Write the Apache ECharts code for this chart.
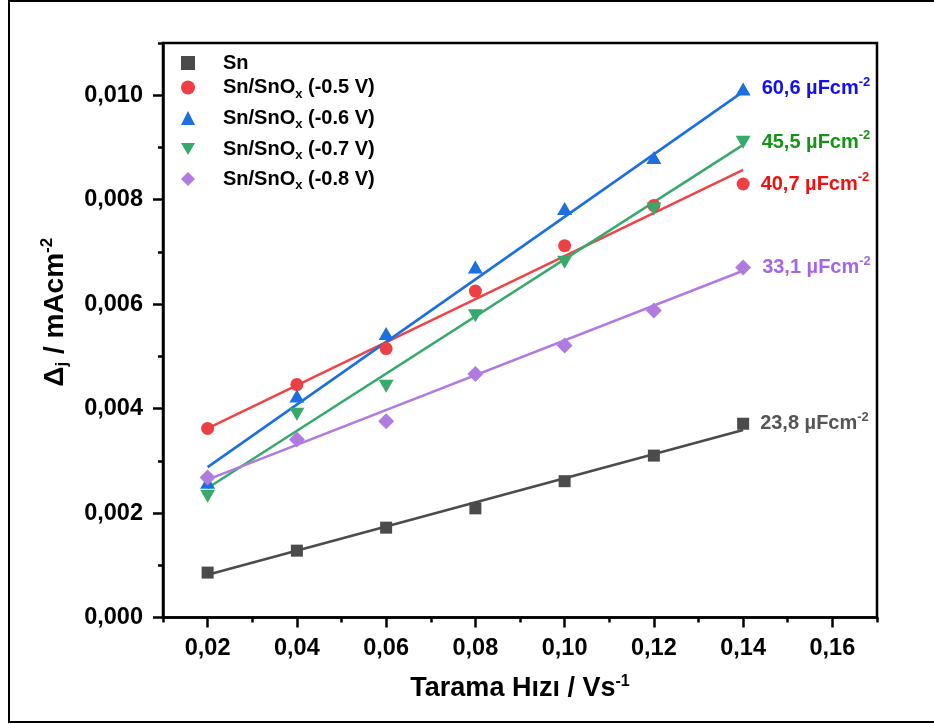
<!DOCTYPE html>
<html>
<head>
<meta charset="utf-8">
<script src="https://cdn.jsdelivr.net/npm/echarts@6/dist/echarts.min.js"></script>
<style>
html,body{margin:0;padding:0;background:#fff;}
#chart{width:934px;height:724px;}
</style>
</head>
<body>
<div id="chart"></div>
<script>
// ---- data ----
const xVals = [0.02, 0.04, 0.06, 0.08, 0.10, 0.12, 0.14];
const snVals   = [0.00086, 0.00128, 0.00172, 0.00209, 0.00261, 0.00310, 0.00371];
const sn05Vals = [0.00362, 0.00446, 0.00515, 0.00625, 0.00712, 0.00789, 0.00830];
const sn06Vals = [0.00259, 0.00424, 0.00544, 0.00671, 0.00783, 0.00881, 0.01012];
const sn07Vals = [0.00232, 0.00389, 0.00443, 0.00578, 0.00680, 0.00782, 0.00910];
const sn08Vals = [0.00268, 0.00341, 0.00376, 0.00466, 0.00521, 0.00588, 0.00670];

// linear-fit line end points
const fitX      = [0.02, 0.14];
const snFit     = [0.00082, 0.00359];
const sn05Fit   = [0.00362, 0.00857];
const sn06Fit   = [0.00288, 0.01007];
const sn07Fit   = [0.00248, 0.00905];
const sn08Fit   = [0.00264, 0.00664];

const seriesNames = ['Sn', 'Sn/SnOx (-0.5 V)', 'Sn/SnOx (-0.6 V)', 'Sn/SnOx (-0.7 V)', 'Sn/SnOx (-0.8 V)'];
const capLabels = ['23,8', '40,7', '60,6', '45,5', '33,1'];

const xMajorTicks = [0.02, 0.04, 0.06, 0.08, 0.10, 0.12, 0.14, 0.16];
const xMinorTicks = [0.01, 0.03, 0.05, 0.07, 0.09, 0.11, 0.13, 0.15, 0.17];
const yMajorTicks = [0.000, 0.002, 0.004, 0.006, 0.008, 0.010];
const yMinorTicks = [0.001, 0.003, 0.005, 0.007, 0.009, 0.011];

// ---- styling ----
const FONT = '"Liberation Sans", Arial, sans-serif';
const markerColors = ['#4b4b4b', '#ee3f44', '#1b6fe0', '#37aa6b', '#b07be0'];
const lineColors   = ['#4b4b4b', '#ef4448', '#1b6fe0', '#37aa6b', '#b07be0'];
const labelColors  = ['#555555', '#f21010', '#1010f0', '#149414', '#a566e6'];
const symbols = ['rect', 'circle', 'triangle', 'path://M0,0 L2,0 L1,1.732 Z', 'diamond'];
const symbolSizes = [12, 13, [15, 13], [15, 13], 16];
const valueSets = [snVals, sn05Vals, sn06Vals, sn07Vals, sn08Vals];
const fitSets = [snFit, sn05Fit, sn06Fit, sn07Fit, sn08Fit];
const legendCenters = [61, 85.5, 116, 147, 177];

const chart = echarts.init(document.getElementById('chart'), null, {renderer: 'canvas'});

const series = [];
valueSets.forEach((vals, i) => {
  series.push({
    name: 'fit' + i,
    type: 'line',
    data: fitX.map((x, k) => [x, fitSets[i][k]]),
    showSymbol: false,
    symbol: 'none',
    lineStyle: {color: lineColors[i], width: 2.6},
    z: 2,
    silent: true,
    animation: false
  });
});
valueSets.forEach((vals, i) => {
  series.push({
    name: seriesNames[i],
    type: 'scatter',
    data: xVals.map((x, k) => [x, vals[k]]),
    symbol: symbols[i],
    symbolSize: symbolSizes[i],
    itemStyle: {color: markerColors[i], opacity: 1},
    z: 3,
    animation: false,
    label: {
      show: true,
      position: 'right',
      distance: 11,
      formatter: p => p.dataIndex === xVals.length - 1 ? '{v|' + capLabels[i] + ' µFcm}{s|-2}' : '',
      rich: {
        v: {fontFamily: FONT, fontWeight: 'bold', fontSize: 20, color: labelColors[i], lineHeight: 26},
        s: {fontFamily: FONT, fontWeight: 'bold', fontSize: 13, color: labelColors[i], verticalAlign: 'top', lineHeight: 14}
      }
    }
  });
});

function legendText(name) {
  if (name.indexOf('SnOx') >= 0) {
    const parts = name.split('SnOx');
    return '{b0|' + parts[0] + 'SnO}{sub|x}{b|' + parts[1] + '}';
  }
  return '{b0|' + name + '}';
}

const legends = seriesNames.map((nm, i) => ({
  data: [nm],
  left: 176,
  top: legendCenters[i] - 13,
  orient: 'vertical',
  itemWidth: 14,
  itemHeight: 14,
  selectedMode: false,
  formatter: legendText,
  textStyle: {
    rich: {
      b0: {fontFamily: FONT, fontWeight: 'bold', fontSize: 20, color: '#000', lineHeight: 26, padding: [0, 0, 0, 23]},
      b: {fontFamily: FONT, fontWeight: 'bold', fontSize: 20, color: '#000', lineHeight: 26},
      sub: {fontFamily: FONT, fontWeight: 'bold', fontSize: 13, color: '#000', verticalAlign: 'bottom', lineHeight: 14}
    }
  }
}));

const axisLabelStyle = {fontFamily: FONT, fontWeight: 'bold', fontSize: 23.5, color: '#000'};

const option = {
  backgroundColor: '#fff',
  animation: false,
  grid: {left: 163, right: 57, top: 43, bottom: 106.5, show: true, borderColor: '#000', borderWidth: 2.5, containLabel: false},
  legend: legends,
  xAxis: [
    {
      type: 'value', min: 0.01, max: 0.17, position: 'bottom',
      name: 'Tarama Hızı / Vs{sup|-1}',
      nameLocation: 'middle',
      nameGap: 56,
      nameTextStyle: {
        rich: {
          sup: {fontFamily: FONT, fontWeight: 'bold', fontSize: 16, color: '#000', verticalAlign: 'top', lineHeight: 16}
        },
        fontFamily: FONT, fontWeight: 'bold', fontSize: 27, color: '#000', lineHeight: 30
      },
      axisLine: {show: true, onZero: false, lineStyle: {color: '#000', width: 2.5}},
      axisTick: {show: true, inside: false, length: 10, lineStyle: {color: '#000', width: 2.5}, customValues: xMajorTicks},
      axisLabel: {show: true, margin: 19, customValues: xMajorTicks, formatter: v => v.toFixed(2).replace('.', ','), ...axisLabelStyle},
      splitLine: {show: false}
    },
    {
      type: 'value', min: 0.01, max: 0.17, position: 'bottom',
      axisLine: {show: false, onZero: false},
      axisTick: {show: true, inside: false, length: 5, lineStyle: {color: '#000', width: 2.5}, customValues: xMinorTicks},
      axisLabel: {show: false},
      splitLine: {show: false}
    }
  ],
  yAxis: [
    {
      type: 'value', min: 0, max: 0.011, position: 'left',
      name: 'Δ{sub|j} / mAcm{sup|-2}',
      nameLocation: 'middle',
      nameRotate: 90,
      nameGap: 92,
      nameTextStyle: {
        fontFamily: FONT, fontWeight: 'bold', fontSize: 28, color: '#000', lineHeight: 32,
        padding: [0, 0, 0, 36],
        rich: {
          sub: {fontFamily: FONT, fontWeight: 'bold', fontSize: 17, color: '#000', verticalAlign: 'bottom', lineHeight: 17},
          sup: {fontFamily: FONT, fontWeight: 'bold', fontSize: 17, color: '#000', verticalAlign: 'top', lineHeight: 17}
        }
      },
      axisLine: {show: true, onZero: false, lineStyle: {color: '#000', width: 2.5}},
      axisTick: {show: true, inside: false, length: 10, lineStyle: {color: '#000', width: 2.5}, customValues: yMajorTicks},
      axisLabel: {show: true, margin: 20, customValues: yMajorTicks, formatter: v => v.toFixed(3).replace('.', ','), ...axisLabelStyle},
      splitLine: {show: false}
    },
    {
      type: 'value', min: 0, max: 0.011, position: 'left',
      axisLine: {show: false, onZero: false},
      axisTick: {show: true, inside: false, length: 5, lineStyle: {color: '#000', width: 2.5}, customValues: yMinorTicks},
      axisLabel: {show: false},
      splitLine: {show: false}
    }
  ],
  graphic: [
    {type: 'rect', shape: {x: 9, y: 1, width: 940, height: 721}, style: {fill: 'none', stroke: '#000', lineWidth: 2}, silent: true, z: -1}
  ],
  series: series
};

chart.setOption(option);
</script>
</body>
</html>
